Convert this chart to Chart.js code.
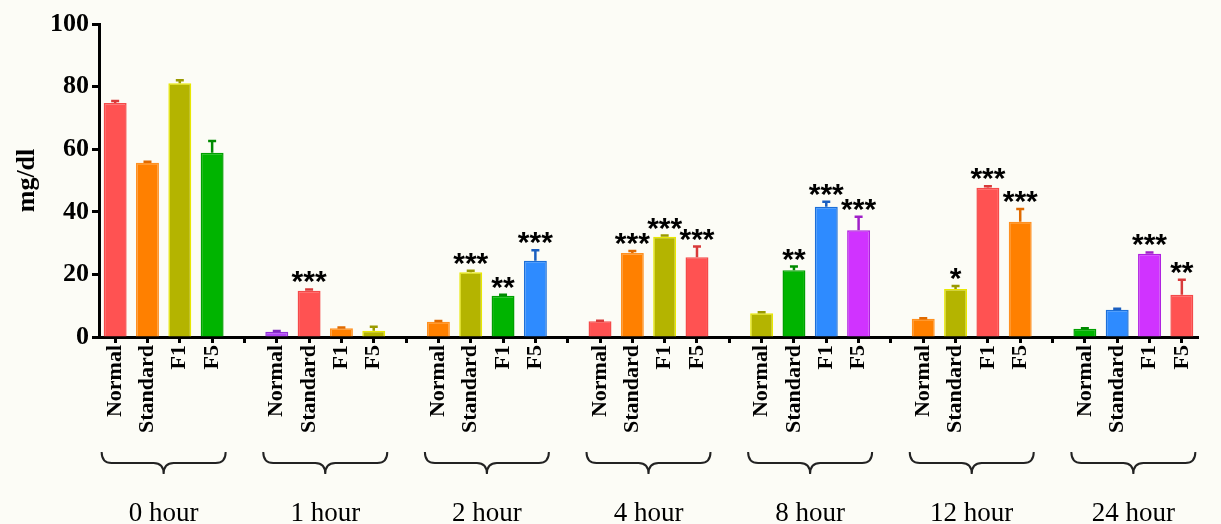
<!DOCTYPE html>
<html>
<head>
<meta charset="utf-8">
<script src="https://cdn.jsdelivr.net/npm/chart.js@4/dist/chart.umd.min.js"></script>
<style>
  html, body { margin: 0; padding: 0; background: #fcfcf6; }
  #wrap { width: 1221px; height: 524px; }
</style>
</head>
<body>
<div id="wrap"><canvas id="c" width="1221" height="524"></canvas></div>
<script>
// time points and treatment groups
const hours = ['0 hour', '1 hour', '2 hour', '4 hour', '8 hour', '12 hour', '24 hour'];
const groups = ['Normal', 'Standard', 'F1', 'F5'];

// mean values (mg/dl) per time point
const normal   = [74.8, 1.7, 4.9, 5.0, 7.6, 5.8, 2.6];
const standard = [55.7, 14.8, 20.7, 26.8, 21.3, 15.3, 8.7];
const f1       = [81.1, 2.8, 13.2, 32.0, 41.6, 47.7, 26.6];
const f5       = [58.9, 2.0, 24.4, 25.5, 34.1, 36.8, 13.5];

// top of error bar (mean + SEM)
const normalErr   = [75.4, 1.9, 5.1, 5.2, 7.9, 6.0, 2.8];
const standardErr = [56.0, 15.2, 21.2, 27.5, 22.5, 16.3, 9.0];
const f1Err       = [82.0, 3.0, 13.5, 32.4, 43.2, 48.2, 27.0];
const f5Err       = [62.6, 3.3, 27.7, 28.9, 38.4, 40.9, 18.3];

// significance marks
const normalStars   = ['', '', '', '', '', '', ''];
const standardStars = ['', '***', '***', '***', '**', '*', ''];
const f1Stars       = ['', '', '**', '***', '***', '***', '***'];
const f5Stars       = ['', '', '***', '***', '***', '***', '**'];

const yTicks = [0, 20, 40, 60, 80, 100];

// colours
const pal = {
  R: ['#ff5252', '#f44a4a', '#d83a3a'],
  O: ['#ff8000', '#ff9020', '#e06a00'],
  Y: ['#b4b400', '#e8e800', '#9a9a00'],
  G: ['#00b400', '#00a000', '#008a00'],
  B: ['#2e8bff', '#1c6fd8', '#1a5fc0'],
  M: ['#d033ff', '#b020e0', '#a020c8'],
  P: ['#b045f5', '#9030d8', '#8028c0'],
};
const barColors = [
  ['R', 'O', 'Y', 'G'],
  ['P', 'R', 'O', 'Y'],
  ['O', 'Y', 'G', 'B'],
  ['R', 'O', 'Y', 'R'],
  ['Y', 'G', 'B', 'M'],
  ['O', 'Y', 'R', 'O'],
  ['G', 'B', 'M', 'R'],
];

// flatten into one category axis with a gap slot between time points
const series = [normal, standard, f1, f5];
const errs = [normalErr, standardErr, f1Err, f5Err];
const stars = [normalStars, standardStars, f1Stars, f5Stars];
const labels = [], values = [], errTop = [], marks = [], fill = [], edge = [], errCol = [];
const groupIdx = [];
hours.forEach((h, gi) => {
  if (gi > 0) {
    labels.push(''); values.push(null); errTop.push(null); marks.push('');
    fill.push('rgba(0,0,0,0)'); edge.push('rgba(0,0,0,0)'); errCol.push(null);
  }
  const first = labels.length;
  groups.forEach((g, k) => {
    const c = pal[barColors[gi][k]];
    labels.push(g);
    values.push(series[k][gi]);
    errTop.push(errs[k][gi]);
    marks.push(stars[k][gi]);
    fill.push(c[0]); edge.push(c[1]); errCol.push(c[2]);
  });
  groupIdx.push([first, labels.length - 1]);
});

const serif = "'Liberation Serif', 'Times New Roman', serif";

const extras = {
  id: 'extras',
  afterDatasetsDraw(chart) {
    const ctx = chart.ctx;
    const x = chart.scales.x, y = chart.scales.y;
    const meta = chart.getDatasetMeta(0);
    ctx.save();
    // error bars
    values.forEach((v, i) => {
      if (v === null) return;
      const px = meta.data[i].x;
      const y0 = y.getPixelForValue(v);
      const y1 = y.getPixelForValue(errTop[i]);
      ctx.strokeStyle = errCol[i];
      ctx.lineWidth = 2.5;
      ctx.beginPath();
      ctx.moveTo(px, y0); ctx.lineTo(px, y1);
      ctx.moveTo(px - 4, y1); ctx.lineTo(px + 4, y1);
      ctx.stroke();
    });
    // significance asterisks
    ctx.fillStyle = '#000';
    ctx.font = "bold 30px 'Liberation Sans', Arial, sans-serif";
    ctx.textAlign = 'center';
    ctx.textBaseline = 'alphabetic';
    marks.forEach((m, i) => {
      if (!m) return;
      const px = meta.data[i].x;
      const top = Math.min(y.getPixelForValue(values[i]), y.getPixelForValue(errTop[i]));
      ctx.fillText(m, px, top + 2);
    });
    // braces and time point labels
    ctx.strokeStyle = '#222';
    ctx.lineWidth = 2;
    ctx.font = '27px ' + serif;
    ctx.textBaseline = 'alphabetic';
    groupIdx.forEach(([a, b], gi) => {
      const xa = x.getPixelForValue(a), xb = x.getPixelForValue(b);
      const xc = (xa + xb) / 2;
      const x0 = xc - 62, x1 = xc + 62;
      const yTop = 452, yMid = 463, yBot = 474, r = 10;
      ctx.beginPath();
      ctx.moveTo(x0, yTop);
      ctx.quadraticCurveTo(x0, yMid, x0 + r, yMid);
      ctx.lineTo(xc - r, yMid);
      ctx.quadraticCurveTo(xc, yMid, xc, yBot);
      ctx.quadraticCurveTo(xc, yMid, xc + r, yMid);
      ctx.lineTo(x1 - r, yMid);
      ctx.quadraticCurveTo(x1, yMid, x1, yTop);
      ctx.stroke();
      ctx.fillText(hours[gi], xc, 521);
    });
    ctx.restore();
  }
};

const bg = {
  id: 'bg',
  beforeDraw(chart) {
    const ctx = chart.ctx;
    ctx.save();
    ctx.fillStyle = '#fcfcf6';
    ctx.fillRect(0, 0, chart.width, chart.height);
    ctx.restore();
  }
};

new Chart(document.getElementById('c'), {
  type: 'bar',
  data: {
    labels: labels,
    datasets: [{
      data: values,
      backgroundColor: fill,
      borderColor: edge,
      borderWidth: 1.5,
      barPercentage: 0.71,
      categoryPercentage: 1,
    }],
  },
  options: {
    responsive: false,
    animation: false,
    layout: { padding: { top: 24, right: 23, left: 0, bottom: 0 } },
    plugins: {
      legend: { display: false },
      tooltip: { enabled: false },
    },
    scales: {
      x: {
        offset: true,
        grid: {
          drawOnChartArea: false,
          drawTicks: true,
          tickLength: 6,
          tickWidth: 3,
          tickColor: '#000',
          offset: false,
        },
        border: { color: '#000', width: 3 },
        ticks: {
          autoSkip: false,
          minRotation: 90,
          maxRotation: 90,
          padding: 2,
          color: '#000',
          font: { family: serif, size: 22, weight: 'bold' },
        },
        afterFit(scale) { scale.height = 187; },
      },
      y: {
        min: 0,
        max: 100,
        afterBuildTicks(scale) { scale.ticks = yTicks.map(v => ({ value: v })); },
        grid: {
          drawOnChartArea: false,
          drawTicks: true,
          tickLength: 7,
          tickWidth: 3,
          tickColor: '#000',
        },
        border: { color: '#000', width: 3 },
        ticks: {
          padding: 3,
          color: '#000',
          font: { family: serif, size: 26, weight: 'bold' },
        },
        title: {
          display: true,
          text: 'mg/dl',
          color: '#000',
          padding: { top: 12, bottom: 0 },
          font: { family: serif, size: 26, weight: 'bold' },
        },
        afterFit(scale) { scale.width = 99; },
      },
    },
  },
  plugins: [bg, extras],
});
</script>
</body>
</html>
